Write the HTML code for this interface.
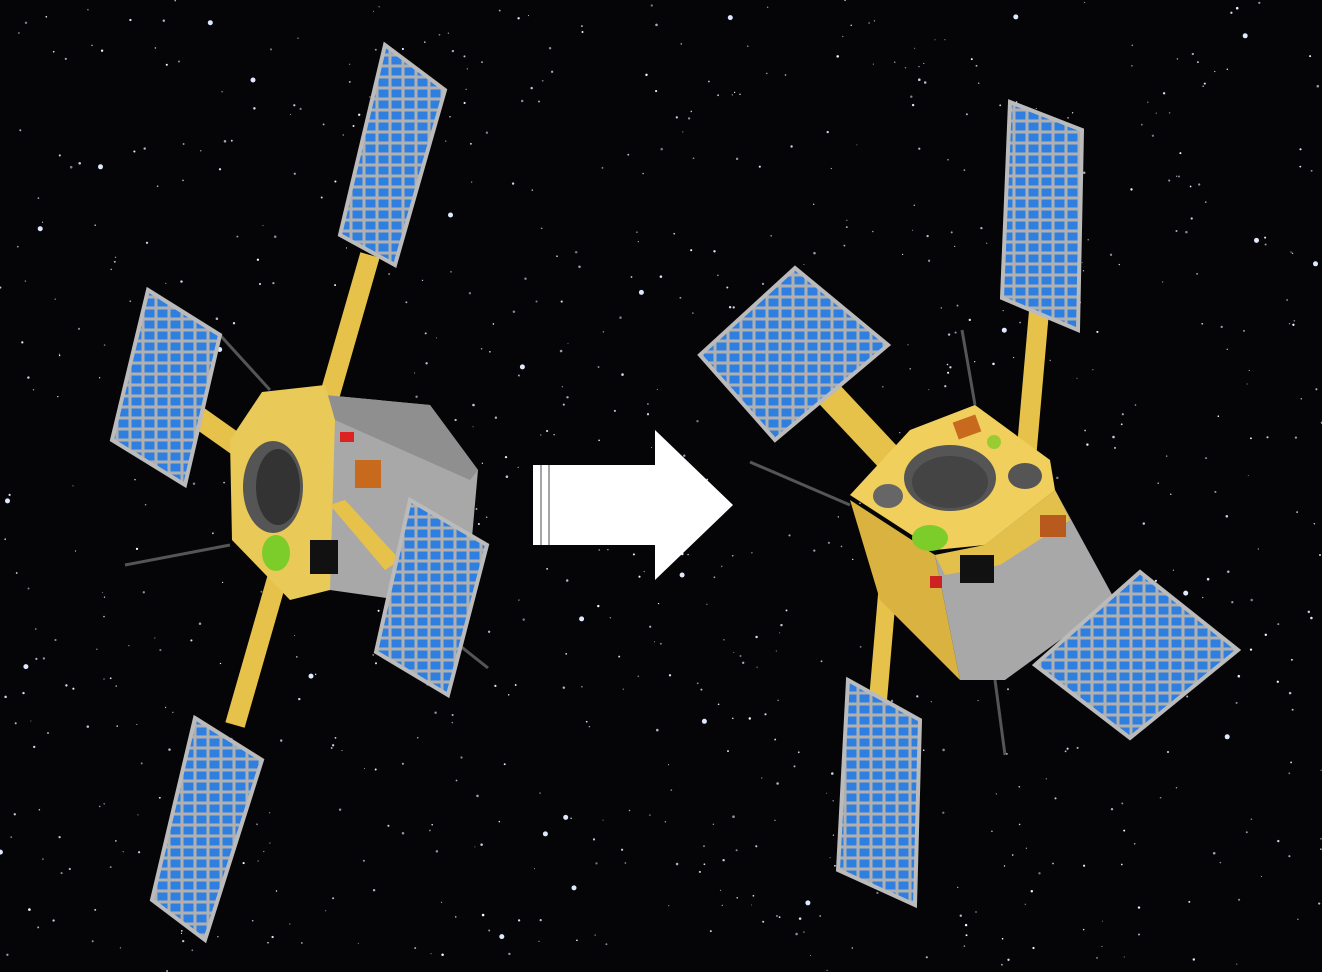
<!DOCTYPE html>
<html><head><meta charset="utf-8"><style>
html,body{margin:0;padding:0;background:#000;width:1322px;height:972px;overflow:hidden}
svg{display:block}
</style></head><body>
<svg id="scene" width="1322" height="972" viewBox="0 0 1322 972">
<defs>
<pattern id="cells" width="13" height="11" patternUnits="userSpaceOnUse"><rect width="13" height="11" fill="#b0b0b0"/><rect x="1.5" y="1.5" width="10" height="8" fill="#2f7fe0"/></pattern>
</defs>
<rect width="1322" height="972" fill="#050507"/>
<g id="stars"></g>

<g>
 <line x1="370" y1="255" x2="235" y2="725" stroke="#e7c24a" stroke-width="20"/>
 <line x1="195" y1="415" x2="400" y2="560" stroke="#e7c24a" stroke-width="22"/>
 <line x1="220" y1="335" x2="270" y2="390" stroke="#555" stroke-width="3"/>
 <line x1="125" y1="565" x2="230" y2="545" stroke="#555" stroke-width="3"/>
 <line x1="440" y1="630" x2="488" y2="668" stroke="#555" stroke-width="3"/>
 <polygon points="325,395 430,405 478,470 470,560 400,600 330,590" fill="#a8a8a8"/>
 <polygon points="325,395 430,405 478,470 470,480 335,420" fill="#8f8f8f"/>
 <polygon points="262,392 325,385 335,420 330,590 290,600 232,540 230,440" fill="#e9c957"/>
 <ellipse cx="273" cy="487" rx="30" ry="46" fill="#555"/>
 <ellipse cx="278" cy="487" rx="22" ry="38" fill="#333"/>
 <ellipse cx="276" cy="553" rx="14" ry="18" fill="#7ccc2a"/>
 <rect x="355" y="460" width="26" height="28" fill="#c86a1e"/>
 <rect x="310" y="540" width="28" height="34" fill="#111"/>
 <rect x="340" y="432" width="14" height="10" fill="#d22"/>
 <polygon points="330,505 345,500 400,560 385,570" fill="#e7c24a"/>
 <polygon points="385,45 445,90 395,265 340,235" fill="url(#cells)" stroke="#bbb" stroke-width="4"/>
 <polygon points="195,718 262,760 205,940 152,900" fill="url(#cells)" stroke="#bbb" stroke-width="4"/>
 <polygon points="148,290 220,335 185,485 112,440" fill="url(#cells)" stroke="#bbb" stroke-width="4"/>
 <polygon points="410,500 487,545 448,695 376,652" fill="url(#cells)" stroke="#bbb" stroke-width="4"/>
</g>

<g>
 <rect x="533" y="465" width="125" height="80" fill="#fff"/>
 <polygon points="655,430 733,505 655,580" fill="#fff"/>
 <line x1="541" y1="465" x2="541" y2="545" stroke="#888" stroke-width="1.5"/>
 <line x1="549" y1="465" x2="549" y2="545" stroke="#888" stroke-width="1.5"/>
</g>

<g>
 <line x1="1040" y1="300" x2="1025" y2="470" stroke="#e7c24a" stroke-width="20"/>
 <line x1="830" y1="395" x2="905" y2="475" stroke="#e7c24a" stroke-width="28"/>
 <line x1="890" y1="560" x2="878" y2="700" stroke="#e7c24a" stroke-width="18"/>
 <line x1="1010" y1="545" x2="1085" y2="605" stroke="#e7c24a" stroke-width="28"/>
 <line x1="750" y1="462" x2="850" y2="505" stroke="#555" stroke-width="3"/>
 <line x1="962" y1="330" x2="975" y2="405" stroke="#555" stroke-width="3"/>
 <line x1="995" y1="680" x2="1005" y2="755" stroke="#555" stroke-width="3"/>
 <polygon points="850,500 935,555 960,680 880,600" fill="#d9b240"/>
 <polygon points="935,555 985,545 1055,490 1115,600 1005,680 960,680" fill="#a8a8a8"/>
 <polygon points="935,555 985,545 1055,490 1070,520 1000,565 945,575" fill="#e3bf4c"/>
 <polygon points="850,495 910,430 975,405 1050,460 1055,490 985,545 935,550" fill="#f0cf5c"/>
 <ellipse cx="950" cy="478" rx="46" ry="33" fill="#555"/>
 <ellipse cx="950" cy="482" rx="38" ry="26" fill="#444"/>
 <ellipse cx="1025" cy="476" rx="17" ry="13" fill="#555"/>
 <ellipse cx="888" cy="496" rx="15" ry="12" fill="#666"/>
 <ellipse cx="930" cy="538" rx="18" ry="13" fill="#7ccc2a"/>
 <rect x="955" y="418" width="24" height="18" fill="#c86a1e" transform="rotate(-20 967 427)"/>
 <circle cx="994" cy="442" r="7" fill="#9c3"/>
 <rect x="960" y="555" width="34" height="28" fill="#111"/>
 <rect x="1040" y="515" width="26" height="22" fill="#b85a1e"/>
 <rect x="930" y="576" width="12" height="12" fill="#c22"/>
 <polygon points="700,355 795,268 888,345 775,440" fill="url(#cells)" stroke="#bbb" stroke-width="4"/>
 <polygon points="1010,102 1082,130 1078,330 1002,298" fill="url(#cells)" stroke="#bbb" stroke-width="4"/>
 <polygon points="1035,665 1140,572 1238,650 1130,738" fill="url(#cells)" stroke="#bbb" stroke-width="4"/>
 <polygon points="848,680 920,720 915,905 838,870" fill="url(#cells)" stroke="#bbb" stroke-width="4"/>
</g>
</svg>
<script>
var g=document.getElementById('stars');var s=12345;
function r(){s=(s*16807)%2147483647;return s/2147483647;}
for(var i=0;i<900;i++){var c=document.createElementNS('http://www.w3.org/2000/svg','circle');


var big=r()<0.04;c.setAttribute('cx',(r()*1322).toFixed(1));c.setAttribute('cy',(r()*972).toFixed(1));
c.setAttribute('r',big?2.5:(0.5+r()*0.8).toFixed(2));
var b=Math.floor(120+r()*135);c.setAttribute('fill',big?'#dfe8ff':'rgb('+b+','+b+','+Math.min(255,b+20)+')');g.appendChild(c);}
</script>
</body></html>
